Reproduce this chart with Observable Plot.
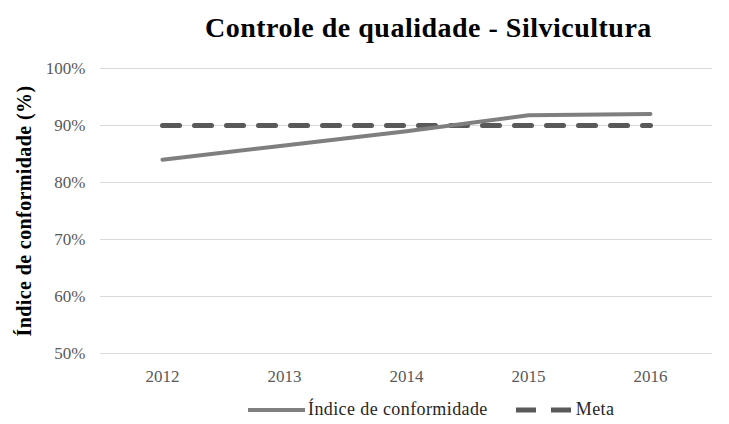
<!DOCTYPE html>
<html>
<head>
<meta charset="utf-8">
<script src="https://cdn.jsdelivr.net/npm/d3@7"></script>
<script src="https://cdn.jsdelivr.net/npm/@observablehq/plot@0.6"></script>
<style>
  html, body { margin: 0; padding: 0; background: #fff; }
  body { width: 729px; height: 424px; overflow: hidden; font-family: "Liberation Serif", "Times New Roman", serif; }
  #title { height: 50px; box-sizing: border-box; padding-top: 14px; padding-left: 205px; line-height: 28px; text-align: left; font-weight: bold; font-size: 28px; letter-spacing: 0.5px; color: #000; white-space: nowrap; }
  #chart svg { display: block; font-family: "Liberation Serif", serif; }
  g[aria-label="y-axis label"] text { font-weight: bold; fill: #000; font-size: 20px; letter-spacing: 0.4px; }
  #legend { height: 29px; display: flex; align-items: center; justify-content: flex-start; padding-left: 248px; font-size: 18px; letter-spacing: 0.4px; color: #262626; }
  #legend .item { display: flex; align-items: center; }
  #legend svg { display: block; }
</style>
</head>
<body>
<div id="title">Controle de qualidade - Silvicultura</div>
<div id="chart"></div>
<div id="legend"></div>
<script>
const years = ["2012", "2013", "2014", "2015", "2016"];
const indice = [84.0, 86.5, 89.0, 91.8, 92.0];
const meta = [90, 90, 90, 90, 90];
const yTicks = [50, 60, 70, 80, 90, 100];
const seriesNames = ["Índice de conformidade", "Meta"];

const data = years.map((y, i) => ({year: y, indice: indice[i], meta: meta[i]}));

const chart = Plot.plot({
  width: 729,
  height: 345,
  marginLeft: 100,
  marginRight: 17,
  marginTop: 18,
  marginBottom: 42,
  style: {fontFamily: "Liberation Serif, serif", fontSize: "17px", color: "#595959"},
  x: {type: "point", domain: years, padding: 0.5, label: null, tickSize: 0, tickPadding: 16},
  y: {domain: [50, 100], ticks: yTicks, tickFormat: d => d + "%", tickSize: 0, tickPadding: 15,
      label: "Índice de conformidade (%)", labelAnchor: "center", labelArrow: "none", labelOffset: 84},
  marks: [
    Plot.ruleY(yTicks, {stroke: "#d9d9d9", strokeWidth: 1}),
    Plot.line(data, {x: "year", y: "meta", stroke: "#595959", strokeWidth: 5, strokeDasharray: "17,15"}),
    Plot.line(data, {x: "year", y: "indice", stroke: "#7f7f7f", strokeWidth: 4, strokeLinecap: "round"})
  ]
});
document.getElementById("chart").appendChild(chart);

const legend = document.getElementById("legend");
const swatches = [
  `<svg width="57" height="8" style="margin-right:3px"><line x1="0" y1="4" x2="57" y2="4" stroke="#7f7f7f" stroke-width="4"/></svg>`,
  `<svg width="55" height="8" style="margin-right:5px"><line x1="0" y1="4" x2="55" y2="4" stroke="#595959" stroke-width="5" stroke-dasharray="20,15"/></svg>`
];
seriesNames.forEach((name, i) => {
  const item = document.createElement("div");
  item.className = "item";
  if (i > 0) item.style.marginLeft = "28px";
  item.innerHTML = swatches[i] + `<span>${name}</span>`;
  legend.appendChild(item);
});
</script>
</body>
</html>
